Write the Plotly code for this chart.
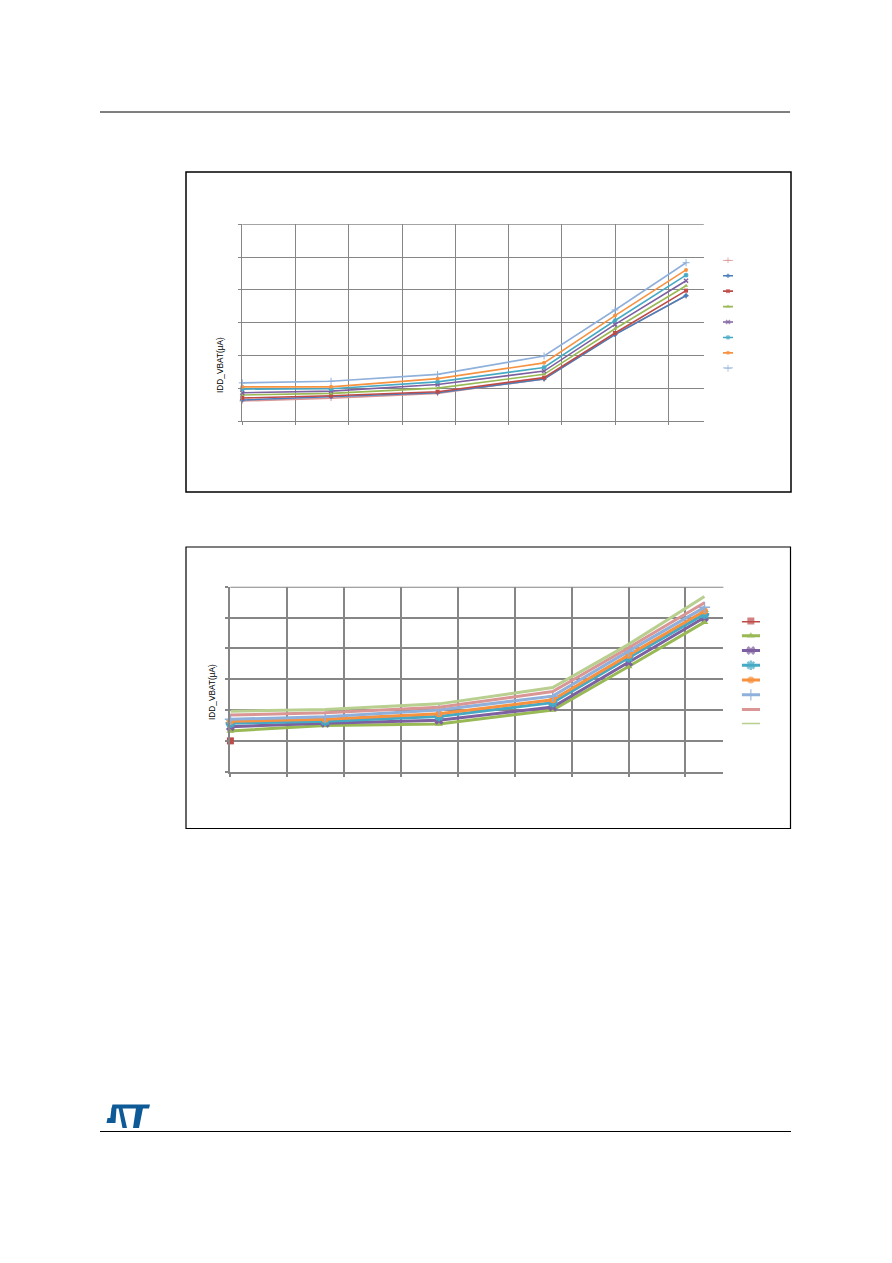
import plotly.graph_objects as go

W, H = 892, 1263

# temperature points (°C) on the x axis
TEMP = [0, 25, 55, 85, 105, 125]

# upper chart: IDD_VBAT (µA), eight supply-voltage curves
C1_PINK = [0.31, 0.35, 0.425, 0.645, 1.33, 1.91]
C1_BLUE = [0.325, 0.375, 0.435, 0.645, 1.32, 1.915]
C1_RED = [0.355, 0.39, 0.45, 0.665, 1.345, 1.99]
C1_GREEN = [0.40, 0.425, 0.505, 0.715, 1.41, 2.065]
C1_PURPLE = [0.435, 0.46, 0.56, 0.765, 1.475, 2.14]
C1_TEAL = [0.49, 0.495, 0.60, 0.82, 1.535, 2.225]
C1_ORANGE = [0.525, 0.525, 0.65, 0.89, 1.61, 2.305]
C1_LIGHTBLUE = [0.585, 0.61, 0.715, 0.995, 1.695, 2.415]

# lower chart: IDD_VBAT (µA), first curve has a single point only
C2_RED = [0.50, None, None, None, None, None]
C2_GREEN = [0.66, 0.75, 0.775, 1.00, 1.705, 2.425]
C2_PURPLE = [0.73, 0.785, 0.835, 1.05, 1.775, 2.50]
C2_TEAL = [0.785, 0.82, 0.895, 1.12, 1.85, 2.555]
C2_ORANGE = [0.82, 0.85, 0.94, 1.165, 1.89, 2.605]
C2_LIGHTBLUE = [0.85, 0.89, 1.00, 1.225, 1.955, 2.665]
C2_PINK = [0.92, 0.955, 1.045, 1.30, 2.01, 2.74]
C2_LIGHTGREEN = [0.98, 1.01, 1.10, 1.365, 2.065, 2.84]

Y_MAX = 3.0
GRID = "#868686"


def px(x):
    return x / W


def py(y):
    return 1 - y / H


# (values, colour, symbol, marker size, marker line width)
chart1 = [
    (C1_PINK, "#D99694", "cross-thin-open", 4, 1),
    (C1_BLUE, "#4A7EBB", "diamond", 4, 0),
    (C1_RED, "#BE4B48", "square", 4, 0),
    (C1_GREEN, "#98B954", "triangle-up", 4, 0),
    (C1_PURPLE, "#7D60A0", "x-thin-open", 4, 1.5),
    (C1_TEAL, "#46AAC5", "asterisk-open", 4, 1.2),
    (C1_ORANGE, "#F69240", "circle", 4, 0),
    (C1_LIGHTBLUE, "#8EB0DA", "cross-thin-open", 5, 1),
]
chart2 = [
    (C2_RED, "#BE4B48", "square", 7, 0),
    (C2_GREEN, "#98B954", "triangle-up", 7, 0),
    (C2_PURPLE, "#7D60A0", "x", 8, 0),
    (C2_TEAL, "#46AAC5", "asterisk-open", 8, 2.5),
    (C2_ORANGE, "#F69240", "circle", 7, 0),
    (C2_LIGHTBLUE, "#8EB0DA", "cross-thin-open", 8, 1.5),
    (C2_PINK, "#D99694", None, 0, 0),
    (C2_LIGHTGREEN, "#B8CF8F", None, 0, 0),
]

fig = go.Figure()


def add_series(series, xa, ya, lw, lxa, lya):
    for i, (vals, col, sym, ms, mlw) in enumerate(series):
        marker = dict(color=col, symbol=sym or "circle", size=ms if sym else 0,
                      line=dict(color=col, width=mlw))
        fig.add_trace(go.Scatter(
            x=TEMP, y=vals, xaxis=xa, yaxis=ya,
            mode="lines+markers" if sym else "lines",
            line=dict(color=col, width=lw), marker=marker,
            cliponaxis=False, connectgaps=False, hoverinfo="skip",
        ))
        # legend swatch: short line with a marker in the middle
        fig.add_trace(go.Scatter(
            x=[0, 0.5, 1], y=[i, i, i], xaxis=lxa, yaxis=lya,
            mode="lines+markers" if sym else "lines",
            line=dict(color=col, width=lw),
            marker=dict(color=col, symbol=sym or "circle",
                        size=[0, ms, 0] if sym else 0,
                        line=dict(color=col, width=mlw)),
            cliponaxis=False, hoverinfo="skip",
        ))


add_series(chart1, "x", "y", 1.6, "x3", "y3")
add_series(chart2, "x2", "y2", 3, "x4", "y4")


def value_axis(domain, anchor, rng, dtick, gw):
    return dict(domain=domain, anchor=anchor, range=rng, dtick=dtick, tick0=0,
                showgrid=True, gridcolor=GRID, gridwidth=gw,
                showline=True, linecolor=GRID, linewidth=gw,
                ticks="outside", ticklen=3, tickcolor=GRID, tickwidth=gw,
                showticklabels=False, zeroline=False, fixedrange=True)


hidden = dict(visible=False, fixedrange=True)

fig.update_layout(
    width=W, height=H,
    margin=dict(l=0, r=0, t=0, b=0),
    paper_bgcolor="white", plot_bgcolor="white",
    showlegend=False,
    font=dict(family="Liberation Sans, Arial, sans-serif", color="black"),
    xaxis=value_axis([px(242.3), px(703.8)], "y", [0, 130], 15, 1.2),
    yaxis=value_axis([py(421.3), py(224.3)], "x", [0, Y_MAX], 0.5, 1.2),
    xaxis2=value_axis([px(230.4), px(723.4)], "y2", [0, 130], 15, 2),
    yaxis2=value_axis([py(771.7), py(586.7)], "x2", [0, Y_MAX], 0.5, 2),
    xaxis3=dict(domain=[px(723), px(733)], anchor="y3", range=[0, 1], **hidden),
    yaxis3=dict(domain=[py(368.3), py(260.3)], anchor="x3", range=[7, 0], **hidden),
    xaxis4=dict(domain=[px(741.7), px(760)], anchor="y4", range=[0, 1], **hidden),
    yaxis4=dict(domain=[py(724.3), py(621)], anchor="x4", range=[7, 0], **hidden),
)

for x, y in [(213, 335), (205, 692)]:
    fig.add_annotation(x=px(x), y=py(y), xref="paper", yref="paper",
                       text="IDD_VBAT(µA)", textangle=-90, showarrow=False,
                       font=dict(size=8.3, color="black"))

# page rules and chart frames
paper = dict(xref="paper", yref="paper")
shapes = [
    dict(type="line", x0=px(100), x1=px(790), y0=py(112), y1=py(112),
         line=dict(color="black", width=1), **paper),
    dict(type="line", x0=px(100), x1=px(791), y0=py(1131.5), y1=py(1131.5),
         line=dict(color="black", width=1), **paper),
    dict(type="rect", x0=px(186), x1=px(791), y0=py(492), y1=py(172),
         line=dict(color="black", width=1.5), **paper),
    dict(type="rect", x0=px(186), x1=px(790.5), y0=py(828.5), y1=py(547),
         line=dict(color="black", width=1.2), **paper),
]

# top gridline of each plot (plotly skips the grid at the range end)
for xr, yr, gw in [("x domain", "y", 1.2), ("x2 domain", "y2", 2)]:
    shapes.append(dict(type="line", xref=xr, yref=yr, x0=0, x1=1,
                       y0=Y_MAX, y1=Y_MAX, layer="below",
                       line=dict(color=GRID, width=gw)))


def logo_poly(pts):
    d = "M " + " L ".join(f"{px(x):.5f},{py(y):.5f}" for x, y in pts) + " Z"
    return dict(type="path", path=d, fillcolor="#0E5A97", line=dict(width=0), **paper)


# simplified ST logo
for poly in [
    [(112.5, 1104.5), (150, 1104.5), (149, 1108.5), (111.5, 1108.5)],
    [(111.5, 1108), (116.5, 1108), (115.5, 1123), (106.5, 1123),
     (107.5, 1118), (110.3, 1118)],
    [(118.5, 1108), (122.5, 1108), (127, 1128), (122.5, 1128)],
    [(136, 1108), (143, 1108), (139, 1128), (133, 1128)],
]:
    shapes.append(logo_poly(poly))

fig.update_layout(shapes=shapes)

fig.write_html("out.html", config={"displayModeBar": False},
               post_script="document.body.style.margin='0';")
